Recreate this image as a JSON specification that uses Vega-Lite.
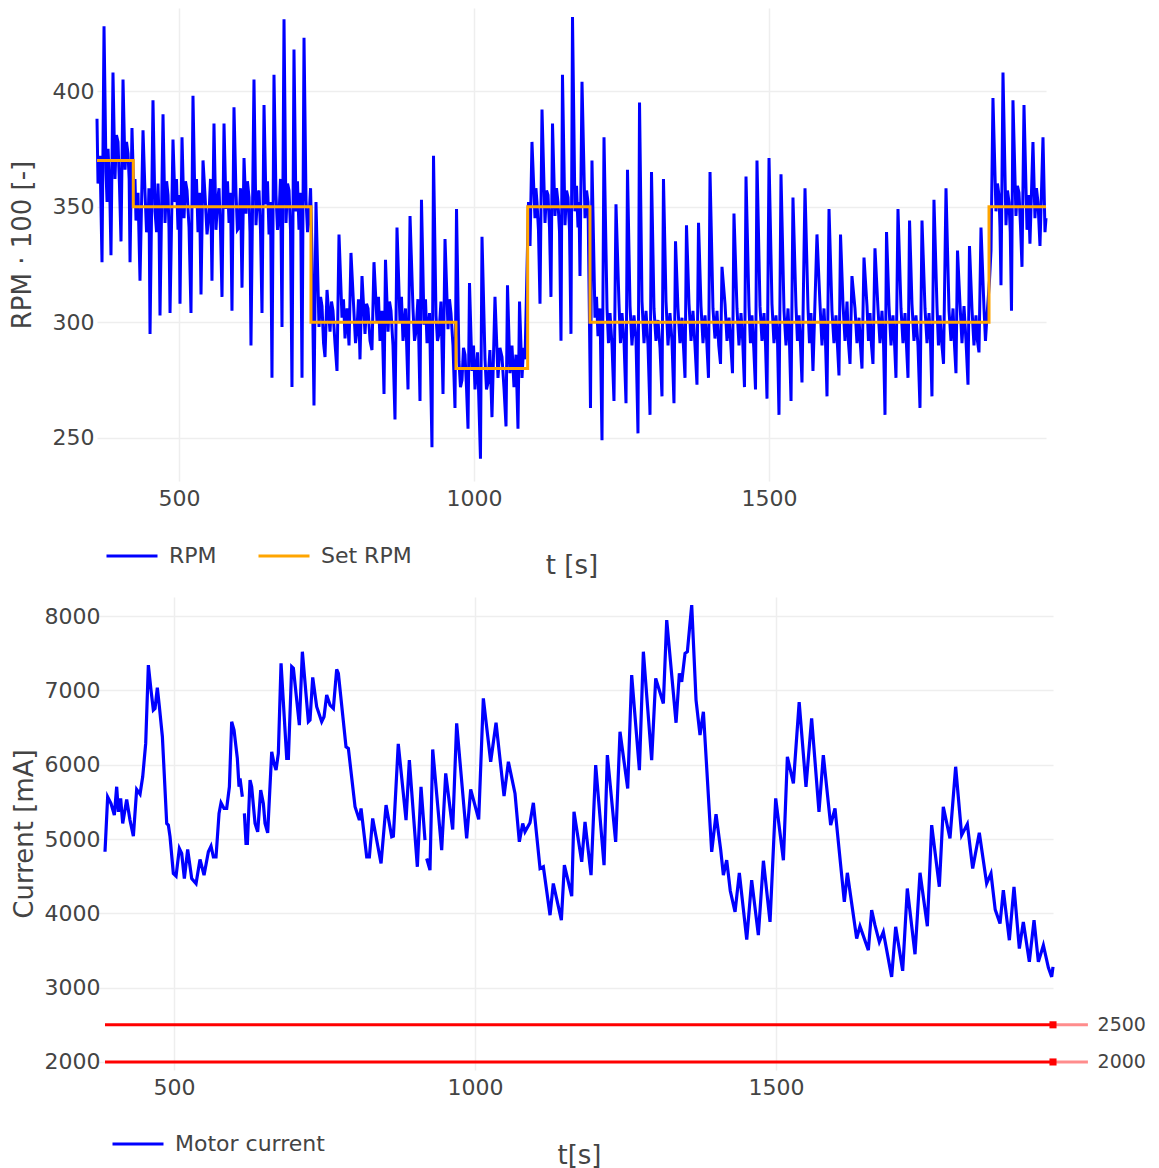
{
  "$schema": "https://vega.github.io/schema/vega-lite/v6.json",
  "padding": {"left": 9, "top": 8, "right": 5, "bottom": 5},
  "background": "white",
  "datasets": {
    "rpm": [
      {"t":361,"v":388},{"t":362.7,"v":360},{"t":366.1,"v":372},
      {"t":369.5,"v":326},{"t":372.9,"v":428},{"t":376.3,"v":365},{"t":378,"v":352},{"t":379.7,"v":375},{"t":382.5,"v":358},
      {"t":384.7,"v":329},{"t":388.1,"v":408},{"t":391.5,"v":362},{"t":394,"v":381},{"t":396.6,"v":378},{"t":399,"v":360},
      {"t":401.7,"v":335},{"t":405.1,"v":405},{"t":408.5,"v":366},{"t":411,"v":378},{"t":413.6,"v":373},{"t":415.5,"v":362},
      {"t":417,"v":326},{"t":420.3,"v":384},{"t":423.7,"v":352},{"t":425.4,"v":362},{"t":427.1,"v":344},{"t":430.5,"v":356},
      {"t":433.9,"v":318},{"t":439,"v":383},{"t":442.4,"v":356},{"t":445,"v":339},{"t":447.5,"v":342},{"t":449,"v":358},
      {"t":450.9,"v":295},{"t":455.9,"v":396},{"t":459.3,"v":348},{"t":462,"v":339},{"t":464.4,"v":360},{"t":466,"v":346},
      {"t":467.8,"v":303},{"t":472.9,"v":390},{"t":476.3,"v":343},{"t":479,"v":361},{"t":481.4,"v":355},{"t":483,"v":341},
      {"t":484.8,"v":304},{"t":489.8,"v":379},{"t":493.2,"v":352},{"t":495.7,"v":362},{"t":498.3,"v":340},{"t":500,"v":355},
      {"t":501.7,"v":308},{"t":505.1,"v":380},{"t":508.5,"v":345},{"t":511,"v":361},{"t":513.6,"v":357},{"t":517,"v":341},
      {"t":520.3,"v":304},{"t":523.7,"v":398},{"t":527.1,"v":350},{"t":529.6,"v":362},{"t":532.2,"v":339},{"t":534.7,"v":356},
      {"t":537.3,"v":312},{"t":540.7,"v":370},{"t":544.1,"v":355},{"t":547.5,"v":338},{"t":550.9,"v":347},{"t":553.4,"v":362},
      {"t":555.9,"v":318},{"t":559.3,"v":386},{"t":562.7,"v":340},{"t":565.2,"v":352},{"t":567.8,"v":358},{"t":570.3,"v":340},
      {"t":572.9,"v":311},{"t":576.3,"v":386},{"t":579.7,"v":349},{"t":582.2,"v":361},{"t":584.8,"v":343},{"t":587.3,"v":356},
      {"t":589.8,"v":305},{"t":593.2,"v":393},{"t":596.6,"v":356},{"t":599,"v":340},{"t":601.7,"v":341},{"t":604.2,"v":358},
      {"t":606.8,"v":315},{"t":610.2,"v":371},{"t":613.6,"v":347},{"t":616,"v":361},{"t":618.7,"v":354},{"t":620.3,"v":339},
      {"t":622,"v":290},{"t":627.1,"v":405},{"t":630.5,"v":342},{"t":633,"v":355},{"t":635.6,"v":357},{"t":638.1,"v":340},
      {"t":640.7,"v":304},{"t":644.1,"v":394},{"t":647.5,"v":351},{"t":650,"v":361},{"t":652.6,"v":338},{"t":655.1,"v":352},
      {"t":657.6,"v":276},{"t":661,"v":407},{"t":664.4,"v":355},{"t":667,"v":340},{"t":669.5,"v":346},{"t":672,"v":362},
      {"t":674.6,"v":298},{"t":678,"v":431},{"t":681.4,"v":343},{"t":684,"v":360},{"t":686.5,"v":357},{"t":689,"v":340},
      {"t":691.5,"v":272},{"t":694.9,"v":418},{"t":698.3,"v":348},{"t":700.8,"v":361},{"t":703.4,"v":340},{"t":706,"v":356},
      {"t":708.5,"v":276},{"t":711.9,"v":423},{"t":715.3,"v":353},{"t":717.9,"v":339},{"t":720.4,"v":345},{"t":723,"v":358},
      {"t":725.4,"v":330},{"t":728.8,"v":264},{"t":732.2,"v":352},{"t":737.3,"v":298},{"t":740,"v":311},{"t":742.4,"v":307},{"t":745,"v":291},
      {"t":747.5,"v":285},{"t":750.9,"v":314},{"t":756,"v":296},{"t":758.5,"v":309},{"t":761,"v":305},{"t":764.4,"v":291},
      {"t":767.8,"v":279},{"t":771.2,"v":338},{"t":776.3,"v":302},{"t":778.8,"v":310},{"t":781.4,"v":293},{"t":784.8,"v":306},
      {"t":788.2,"v":290},{"t":791.5,"v":330},{"t":796.6,"v":304},{"t":799.2,"v":291},{"t":801.7,"v":297},{"t":804.2,"v":310},
      {"t":806.8,"v":284},{"t":810.2,"v":320},{"t":815.3,"v":295},{"t":817.9,"v":308},{"t":820.4,"v":306},{"t":823.8,"v":292},
      {"t":827.1,"v":288},{"t":830.5,"v":326},{"t":835.6,"v":300},{"t":838.1,"v":311},{"t":840.7,"v":292},{"t":844,"v":305},
      {"t":847.5,"v":269},{"t":850,"v":327},{"t":854.3,"v":296},{"t":856.8,"v":309},{"t":859.3,"v":305},{"t":862.7,"v":290},
      {"t":866.1,"v":258},{"t":869.5,"v":341},{"t":874.6,"v":300},{"t":877.1,"v":311},{"t":879.7,"v":292},{"t":884,"v":306},
      {"t":888.2,"v":271},{"t":891.6,"v":346},{"t":896.6,"v":306},{"t":899.2,"v":292},{"t":901.7,"v":296},{"t":905,"v":310},
      {"t":908.5,"v":266},{"t":911,"v":353},{"t":915.3,"v":299},{"t":917.8,"v":310},{"t":920.4,"v":291},{"t":924.6,"v":304},
      {"t":928.8,"v":246},{"t":931.4,"v":372},{"t":935.6,"v":303},{"t":938.1,"v":292},{"t":940.7,"v":295},{"t":944,"v":309},
      {"t":947.5,"v":269},{"t":950.9,"v":336},{"t":956,"v":297},{"t":958.5,"v":310},{"t":961,"v":304},{"t":964.4,"v":290},
      {"t":967.8,"v":263},{"t":970.4,"v":349},
      {"t":974.6,"v":283},{"t":977.1,"v":272},{"t":979.7,"v":275},{"t":982.2,"v":289},{"t":984.8,"v":286},{"t":987.3,"v":272},
      {"t":989.9,"v":254},{"t":992.4,"v":317},{"t":996.6,"v":279},{"t":999.2,"v":290},{"t":1001.7,"v":271},{"t":1006,"v":287},
      {"t":1011,"v":241},{"t":1013.6,"v":337},{"t":1018.7,"v":284},{"t":1021.2,"v":271},{"t":1023.8,"v":274},{"t":1027,"v":288},
      {"t":1030.5,"v":259},{"t":1035.6,"v":311},{"t":1040.7,"v":276},{"t":1044,"v":289},{"t":1047.5,"v":285},{"t":1051,"v":271},
      {"t":1054.3,"v":255},{"t":1056.8,"v":316},{"t":1061,"v":278},{"t":1064.4,"v":290},{"t":1067.8,"v":272},{"t":1071.2,"v":286},
      {"t":1074.6,"v":254},{"t":1077.2,"v":309},{"t":1081.4,"v":276},{"t":1084,"v":289},{"t":1086.5,"v":284},
      {"t":1092.4,"v":352},{"t":1095,"v":333},{"t":1098.3,"v":378},{"t":1103.4,"v":345},{"t":1105,"v":358},{"t":1106.8,"v":352},{"t":1109.3,"v":340},
      {"t":1111.9,"v":308},{"t":1115.3,"v":392},{"t":1120.4,"v":343},{"t":1123,"v":357},{"t":1125.5,"v":355},{"t":1128,"v":341},
      {"t":1130.5,"v":311},{"t":1133.1,"v":386},{"t":1137.3,"v":346},{"t":1139.9,"v":358},{"t":1142.4,"v":352},{"t":1145,"v":339},
      {"t":1147.5,"v":292},{"t":1150,"v":407},{"t":1154.3,"v":342},{"t":1156.9,"v":357},{"t":1159.4,"v":354},{"t":1161.9,"v":340},
      {"t":1164.4,"v":295},{"t":1167,"v":432},{"t":1171.2,"v":348},{"t":1173.8,"v":359},{"t":1176.3,"v":341},{"t":1178,"v":352},
      {"t":1179.7,"v":320},{"t":1183.1,"v":404},{"t":1188.2,"v":345},{"t":1190.8,"v":357},{"t":1193.3,"v":352},
      {"t":1197.5,"v":263},{"t":1200,"v":370},{"t":1205.1,"v":302},{"t":1207.7,"v":311},{"t":1210.2,"v":294},{"t":1213.6,"v":306},
      {"t":1217,"v":249},{"t":1220.4,"v":380},{"t":1225.5,"v":306},{"t":1228,"v":291},{"t":1230.6,"v":304},{"t":1234,"v":290},
      {"t":1237.3,"v":266},{"t":1240.7,"v":351},{"t":1245.8,"v":308},{"t":1248.3,"v":291},{"t":1250.9,"v":304},{"t":1254.3,"v":292},
      {"t":1257.7,"v":265},{"t":1260.2,"v":366},{"t":1264.5,"v":307},{"t":1267.8,"v":290},{"t":1271.2,"v":303},{"t":1274.6,"v":293},
      {"t":1278,"v":252},{"t":1280.6,"v":395},{"t":1284.8,"v":309},{"t":1288.2,"v":291},{"t":1291.6,"v":305},{"t":1295,"v":290},
      {"t":1298.4,"v":260},{"t":1300.9,"v":365},{"t":1305.1,"v":306},{"t":1308.5,"v":292},{"t":1311.9,"v":301},{"t":1315.3,"v":289},
      {"t":1318.7,"v":268},{"t":1321.2,"v":362},{"t":1325.5,"v":309},{"t":1328.9,"v":290},{"t":1332.2,"v":304},{"t":1335.6,"v":292},
      {"t":1339,"v":265},{"t":1341.6,"v":335},{"t":1345.8,"v":306},{"t":1349.2,"v":291},{"t":1352.6,"v":302},{"t":1355,"v":290},
      {"t":1357.7,"v":276},{"t":1360.2,"v":342},{"t":1364.5,"v":308},{"t":1367.9,"v":292},{"t":1371.2,"v":305},{"t":1374.6,"v":290},
      {"t":1378,"v":273},{"t":1380.6,"v":343},{"t":1384.8,"v":307},{"t":1388.2,"v":291},{"t":1391.6,"v":303},{"t":1394.5,"v":292},
      {"t":1397.5,"v":276},{"t":1400.1,"v":365},{"t":1405.1,"v":306},{"t":1408.5,"v":293},{"t":1411.9,"v":305},{"t":1414.9,"v":290},
      {"t":1417.9,"v":282},{"t":1420.4,"v":324},{"t":1425.5,"v":308},{"t":1428.9,"v":292},{"t":1432.3,"v":302},{"t":1435.2,"v":291},
      {"t":1438.2,"v":278},{"t":1440.7,"v":347},{"t":1445.8,"v":306},{"t":1449.2,"v":290},{"t":1452.6,"v":304},{"t":1455.5,"v":292},
      {"t":1458.5,"v":272},{"t":1461.1,"v":363},{"t":1466.1,"v":307},{"t":1468.6,"v":291},{"t":1471.2,"v":303},{"t":1474.2,"v":289},
      {"t":1477.2,"v":271},{"t":1479.7,"v":370},{"t":1484.8,"v":307},{"t":1488.2,"v":292},{"t":1491.6,"v":304},{"t":1494.2,"v":290},
      {"t":1496.7,"v":267},{"t":1500.1,"v":371},{"t":1505.1,"v":308},{"t":1508.5,"v":291},{"t":1511.9,"v":303},{"t":1514.5,"v":292},
      {"t":1517,"v":260},{"t":1520.4,"v":364},{"t":1525.5,"v":305},{"t":1528.9,"v":290},{"t":1532.3,"v":306},{"t":1534.8,"v":291},
      {"t":1537.4,"v":266},{"t":1540.7,"v":354},{"t":1545.8,"v":307},{"t":1548.3,"v":292},{"t":1550.9,"v":303},{"t":1553.5,"v":290},
      {"t":1556,"v":274},{"t":1561.1,"v":358},{"t":1566.2,"v":306},{"t":1568.7,"v":291},{"t":1571.2,"v":304},{"t":1573,"v":292},
      {"t":1574.6,"v":279},{"t":1581.4,"v":338},{"t":1586.5,"v":308},{"t":1589.9,"v":290},{"t":1593.3,"v":306},{"t":1595.8,"v":292},
      {"t":1598.4,"v":268},{"t":1601.8,"v":349},{"t":1606.8,"v":305},{"t":1610.2,"v":291},{"t":1613.6,"v":303},{"t":1616.1,"v":290},
      {"t":1618.7,"v":277},{"t":1621.3,"v":338},{"t":1625.5,"v":308},{"t":1628.9,"v":292},{"t":1632.3,"v":309},{"t":1634.8,"v":291},
      {"t":1637.4,"v":282},{"t":1640.7,"v":320},{"t":1645.8,"v":306},{"t":1649.2,"v":291},{"t":1652.6,"v":302},{"t":1655.1,"v":290},
      {"t":1657.7,"v":280},{"t":1661.1,"v":328},{"t":1666.2,"v":307},{"t":1668.7,"v":292},{"t":1671.3,"v":304},{"t":1673.8,"v":290},
      {"t":1676.3,"v":282},{"t":1679.7,"v":332},{"t":1684.8,"v":306},{"t":1688.2,"v":291},{"t":1691.6,"v":305},{"t":1694.1,"v":292},
      {"t":1696.7,"v":260},{"t":1699.3,"v":339},{"t":1703.5,"v":307},{"t":1706.9,"v":290},{"t":1710.2,"v":303},{"t":1712.7,"v":292},
      {"t":1715.3,"v":276},{"t":1718.7,"v":349},{"t":1723.8,"v":306},{"t":1727.2,"v":291},{"t":1730.6,"v":304},{"t":1733.1,"v":290},
      {"t":1735.7,"v":276},{"t":1738.3,"v":344},{"t":1742.4,"v":308},{"t":1745.8,"v":292},{"t":1749.2,"v":303},{"t":1752.6,"v":290},
      {"t":1756,"v":263},{"t":1759.4,"v":344},{"t":1764.5,"v":306},{"t":1767.9,"v":291},{"t":1771.3,"v":304},{"t":1773.8,"v":292},
      {"t":1776.3,"v":268},{"t":1779.7,"v":353},{"t":1784.8,"v":307},{"t":1787.3,"v":290},{"t":1789.9,"v":303},{"t":1792.9,"v":291},
      {"t":1795.9,"v":282},{"t":1800.1,"v":358},{"t":1805.2,"v":305},{"t":1808.6,"v":292},{"t":1812,"v":306},{"t":1814.5,"v":290},
      {"t":1817,"v":278},{"t":1819.6,"v":331},{"t":1823.8,"v":308},{"t":1827.2,"v":291},{"t":1830.6,"v":307},{"t":1834,"v":292},
      {"t":1837.4,"v":273},{"t":1839.9,"v":333},{"t":1844.1,"v":306},{"t":1847.5,"v":290},{"t":1850.9,"v":303},{"t":1853.4,"v":292},
      {"t":1856,"v":287},{"t":1859.4,"v":341},{"t":1864.5,"v":306},{"t":1867,"v":292},{"t":1869.6,"v":303},
      {"t":1873.8,"v":318},{"t":1876.4,"v":331},{"t":1879.7,"v":397},{"t":1884.8,"v":348},{"t":1887.3,"v":360},{"t":1889.9,"v":355},{"t":1891.6,"v":341},
      {"t":1893.3,"v":316},{"t":1896.7,"v":408},{"t":1901.8,"v":342},{"t":1904.3,"v":357},{"t":1906.9,"v":352},{"t":1909,"v":339},
      {"t":1911.1,"v":305},{"t":1913.6,"v":396},{"t":1918.7,"v":346},{"t":1921.2,"v":359},{"t":1923.8,"v":356},{"t":1926.3,"v":342},
      {"t":1928.9,"v":324},{"t":1932.3,"v":394},{"t":1937.4,"v":340},{"t":1939.9,"v":355},{"t":1942.4,"v":334},{"t":1947.5,"v":378},{"t":1950.9,"v":345},{"t":1953.4,"v":358},{"t":1956,"v":352},{"t":1959.4,"v":333},{"t":1964.5,"v":380},{"t":1967.9,"v":339},{"t":1969.6,"v":345}
    ],
    "setrpm": [
      {"t":361,"v":370},{"t":422.5,"v":350},{"t":723.7,"v":300},{"t":969.5,"v":280},{"t":1091,"v":350},{"t":1196.6,"v":300},{"t":1873,"v":350},{"t":1969.6,"v":350}
    ],
    "current": [
      {"t":385.4,"v":4828},{"t":389.8,"v":5568},{"t":395.4,"v":5478},{"t":400.9,"v":5321},{"t":404.8,"v":5703},{"t":407.6,"v":5366},{"t":411.4,"v":5546},{"t":414.8,"v":5209},{"t":421.4,"v":5532},{"t":426.9,"v":5254},{"t":432.5,"v":5039},{"t":438,"v":5667},{"t":443.6,"v":5604},{"t":448,"v":5837},{"t":453,"v":6286},{"t":457.4,"v":7340},{"t":461.8,"v":7004},{"t":465.7,"v":6735},{"t":468.5,"v":6757},{"t":472.3,"v":7035},{"t":475.7,"v":6780},{"t":480.7,"v":6376},{"t":487.9,"v":5209},{"t":490.6,"v":5187},{"t":493.4,"v":5030},{"t":498.9,"v":4536},{"t":503.4,"v":4500},{"t":508.9,"v":4873},{"t":512.8,"v":4805},{"t":517.2,"v":4469},{"t":522.7,"v":4859},{"t":529.4,"v":4469},{"t":536.6,"v":4401},{"t":543.2,"v":4724},{"t":549.9,"v":4514},{"t":557.1,"v":4828},{"t":561.5,"v":4904},{"t":565.4,"v":4760},{"t":569.8,"v":4760},{"t":574.8,"v":5344},{"t":578.1,"v":5487},{"t":583.1,"v":5411},{"t":587.5,"v":5411},{"t":592,"v":5703},{"t":595.8,"v":6578},{"t":599.7,"v":6465},{"t":605.2,"v":6084},{"t":608,"v":5703},{"t":609.7,"v":5815},{"t":613.5,"v":5568},{"t":615,"v":null},{"t":616.9,"v":5344},{"t":619.6,"v":4940},{"t":621.9,"v":4940},{"t":626.3,"v":5792},{"t":629,"v":5703},{"t":634.6,"v":5209},{"t":639,"v":5097},{"t":644,"v":5658},{"t":648.4,"v":5478},{"t":651.2,"v":5209},{"t":655.6,"v":5083},{"t":662.3,"v":6174},{"t":666.1,"v":6017},{"t":669.5,"v":5927},{"t":673.3,"v":6151},{"t":677.8,"v":7363},{"t":687.2,"v":6084},{"t":690,"v":6084},{"t":695.5,"v":7318},{"t":698.3,"v":7296},{"t":708.2,"v":6533},{"t":713.2,"v":7520},{"t":723.2,"v":6578},{"t":725.9,"v":6600},{"t":730.4,"v":7174},{"t":737,"v":6780},{"t":745.3,"v":6578},{"t":749.2,"v":6645},{"t":753.6,"v":6937},{"t":759.2,"v":6802},{"t":764.7,"v":6757},{"t":770.2,"v":7282},{"t":773,"v":7228},{"t":785.7,"v":6241},{"t":789.6,"v":6219},{"t":800.7,"v":5434},{"t":807.9,"v":5254},{"t":810.7,"v":5411},{"t":820.1,"v":4760},{"t":824.5,"v":4760},{"t":830,"v":5276},{"t":843.9,"v":4671},{"t":852.2,"v":5456},{"t":861.6,"v":5030},{"t":864.4,"v":5039},{"t":872.5,"v":6280},{"t":885.4,"v":5254},{"t":890.9,"v":6062},{"t":904.2,"v":4626},{"t":910.3,"v":5703},{"t":916.9,"v":4985},{"t":918,"v":null},{"t":919.7,"v":4738},{"t":925.2,"v":4581},{"t":929.7,"v":6205},{"t":944.6,"v":4850},{"t":951.3,"v":5882},{"t":962.9,"v":5128},{"t":969.5,"v":6555},{"t":986.1,"v":5007},{"t":992.8,"v":5667},{"t":1006.1,"v":5263},{"t":1013.8,"v":6892},{"t":1026,"v":6039},{"t":1034.9,"v":6564},{"t":1048.2,"v":5577},{"t":1055.4,"v":6039},{"t":1066.4,"v":5613},{"t":1073.6,"v":4962},{"t":1079.2,"v":5209},{"t":1083,"v":5097},{"t":1091.3,"v":5218},{"t":1096.9,"v":5487},{"t":1108,"v":4603},{"t":1113.5,"v":4626},{"t":1124.6,"v":3975},{"t":1130,"v":4401},{"t":1143.4,"v":3908},{"t":1148.4,"v":4648},{"t":1160.6,"v":4231},{"t":1164.4,"v":5366},{"t":1177.2,"v":4693},{"t":1182.7,"v":5231},{"t":1192.7,"v":4514},{"t":1200.4,"v":5994},{"t":1214.3,"v":4648},{"t":1219.8,"v":6129},{"t":1233.6,"v":4962},{"t":1240.8,"v":6443},{"t":1253.6,"v":5680},{"t":1260.2,"v":7206},{"t":1273,"v":5927},{"t":1279.6,"v":7520},{"t":1293.4,"v":6062},{"t":1300.1,"v":7161},{"t":1312.8,"v":6824},{"t":1318.4,"v":7946},{"t":1333.9,"v":6564},{"t":1339.4,"v":7228},{"t":1343.3,"v":7116},{"t":1348.8,"v":7497},{"t":1352.7,"v":7520},{"t":1359.9,"v":8148},{"t":1367.1,"v":6869},{"t":1373.7,"v":6398},{"t":1379.3,"v":6712},{"t":1393.1,"v":4828},{"t":1400.3,"v":5335},{"t":1408.1,"v":4850},{"t":1412.5,"v":4514},{"t":1418,"v":4716},{"t":1424,"v":4300},{"t":1431.9,"v":4020},{"t":1439,"v":4545},{"t":1451.3,"v":3647},{"t":1459.5,"v":4446},{"t":1470.6,"v":3706},{"t":1479,"v":4707},{"t":1490,"v":3885},{"t":1499.4,"v":5546},{"t":1512.2,"v":4715},{"t":1518.8,"v":6106},{"t":1528.8,"v":5748},{"t":1538.4,"v":6843},{"t":1549.7,"v":5703},{"t":1559.1,"v":6623},{"t":1571.3,"v":5366},{"t":1578.5,"v":6129},{"t":1590.7,"v":5187},{"t":1597.9,"v":5411},{"t":1613.4,"v":4154},{"t":1618.4,"v":4545},{"t":1633.9,"v":3661},{"t":1639.4,"v":3827},{"t":1653.3,"v":3504},{"t":1658.8,"v":4042},{"t":1664.3,"v":3840},{"t":1671.5,"v":3616},{"t":1678.2,"v":3750},{"t":1692,"v":3145},{"t":1698.7,"v":3818},{"t":1710.3,"v":3226},{"t":1718,"v":4334},{"t":1730.8,"v":3450},{"t":1739.1,"v":4545},{"t":1751.3,"v":3827},{"t":1758.5,"v":5187},{"t":1771.2,"v":4357},{"t":1777.8,"v":5434},{"t":1788.9,"v":5007},{"t":1798.3,"v":5972},{"t":1808.3,"v":5052},{"t":1817.7,"v":5200},{"t":1826.6,"v":4603},{"t":1837.6,"v":5083},{"t":1849.8,"v":4401},{"t":1857,"v":4536},{"t":1864,"v":4050},{"t":1872,"v":3863},{"t":1877.5,"v":4312},{"t":1887.5,"v":3638},{"t":1895.2,"v":4356},{"t":1904.1,"v":3526},{"t":1910.7,"v":3885},{"t":1920.7,"v":3347},{"t":1928.5,"v":3908},{"t":1935.7,"v":3347},{"t":1944,"v":3571},{"t":1952.3,"v":3270},{"t":1957.8,"v":3145},{"t":1960,"v":3280}
    ],
    "levels": [{"level":2500},{"level":2000}]
  },
  "vconcat": [
    {
      "width": 949,
      "height": 473,
      "layer": [
        {
          "data": {"name": "rpm"},
          "mark": {"type": "line", "strokeWidth": 3},
          "encoding": {
            "x": {"field": "t", "type": "quantitative", "scale": {"domain": [361, 1969.6], "nice": false, "zero": false},
                  "axis": {"title": "t [s]", "values": [500, 1000, 1500], "format": "d", "labelPadding": 7, "titlePadding": 43}},
            "y": {"field": "v", "type": "quantitative", "scale": {"domain": [231.4, 435.9], "nice": false, "zero": false},
                  "axis": {"title": "RPM · 100 [-]", "values": [250, 300, 350, 400], "format": "d", "labelPadding": 3, "titlePadding": 17}},
            "color": {"datum": "RPM", "type": "nominal",
                      "scale": {"domain": ["RPM", "Set RPM"], "range": ["#0000ff", "#ffa500"]},
                      "legend": {"title": null, "orient": "none", "direction": "horizontal", "legendX": 8, "legendY": 521}}
          }
        },
        {
          "data": {"name": "setrpm"},
          "mark": {"type": "line", "interpolate": "step-after", "strokeWidth": 3},
          "encoding": {
            "x": {"field": "t", "type": "quantitative"},
            "y": {"field": "v", "type": "quantitative"},
            "color": {"datum": "Set RPM", "type": "nominal"}
          }
        }
      ]
    },
    {
      "width": 956,
      "height": 473,
      "layer": [
        {
          "data": {"name": "current"},
          "mark": {"type": "line", "strokeWidth": 3.2, "invalid": "break-paths-show-domains"},
          "encoding": {
            "x": {"field": "t", "type": "quantitative", "scale": {"domain": [372.1, 1960], "nice": false, "zero": false},
                  "axis": {"title": "t[s]", "values": [500, 1000, 1500], "format": "d", "labelPadding": 7, "titlePadding": 44, "titleX": 482}},
            "y": {"field": "v", "type": "quantitative", "scale": {"domain": [1892, 8256], "nice": false, "zero": false},
                  "axis": {"title": "Current [mA]", "values": [2000, 3000, 4000, 5000, 6000, 7000, 8000], "format": "d", "labelPadding": -3, "titlePadding": 7}},
            "color": {"datum": "Motor current", "type": "nominal",
                      "scale": {"domain": ["Motor current"], "range": ["#0000ff"]},
                      "legend": {"title": null, "orient": "none", "direction": "horizontal", "legendX": 14, "legendY": 520}}
          }
        },
        {
          "data": {"name": "levels"},
          "mark": {"type": "rule", "color": "#ff0000", "strokeWidth": 3},
          "encoding": {"x": {"datum": 385.4}, "x2": {"datum": 1960}, "y": {"field": "level", "type": "quantitative"}}
        },
        {
          "data": {"name": "levels"},
          "mark": {"type": "rule", "color": "#ff0000", "strokeWidth": 3, "opacity": 0.45},
          "encoding": {"x": {"datum": 1960}, "x2": {"datum": 2018}, "y": {"field": "level", "type": "quantitative"}}
        },
        {
          "data": {"name": "levels"},
          "mark": {"type": "point", "shape": "square", "filled": true, "color": "#ff0000", "size": 50, "opacity": 1},
          "encoding": {"x": {"datum": 1960}, "y": {"field": "level", "type": "quantitative"}}
        },
        {
          "data": {"name": "levels"},
          "mark": {"type": "text", "align": "left", "baseline": "middle", "fontSize": 19, "font": "DejaVu Sans", "color": "#444444"},
          "encoding": {"x": {"datum": 2034}, "y": {"field": "level", "type": "quantitative"}, "text": {"field": "level", "type": "quantitative", "format": "d"}}
        }
      ]
    }
  ],
  "spacing": 19,
  "bounds": "full",
  "resolve": {"scale": {"color": "independent", "x": "independent", "y": "independent"}, "legend": {"color": "independent"}},
  "config": {
    "view": {"stroke": null},
    "font": "DejaVu Sans",
    "axis": {"labelFont": "DejaVu Sans", "titleFont": "DejaVu Sans", "labelFontSize": 22, "titleFontSize": 26,
             "labelColor": "#444444", "titleColor": "#444444", "titleFontWeight": "normal",
             "gridColor": "#eeeeee", "gridWidth": 1.5, "domain": false, "ticks": false, "tickSize": 0},
    "legend": {"labelFont": "DejaVu Sans", "labelFontSize": 22, "labelColor": "#444444",
               "symbolType": "stroke", "symbolStrokeWidth": 3, "symbolSize": 2601,
               "labelOffset": 10, "columnPadding": 35, "padding": 0}
  }
}
